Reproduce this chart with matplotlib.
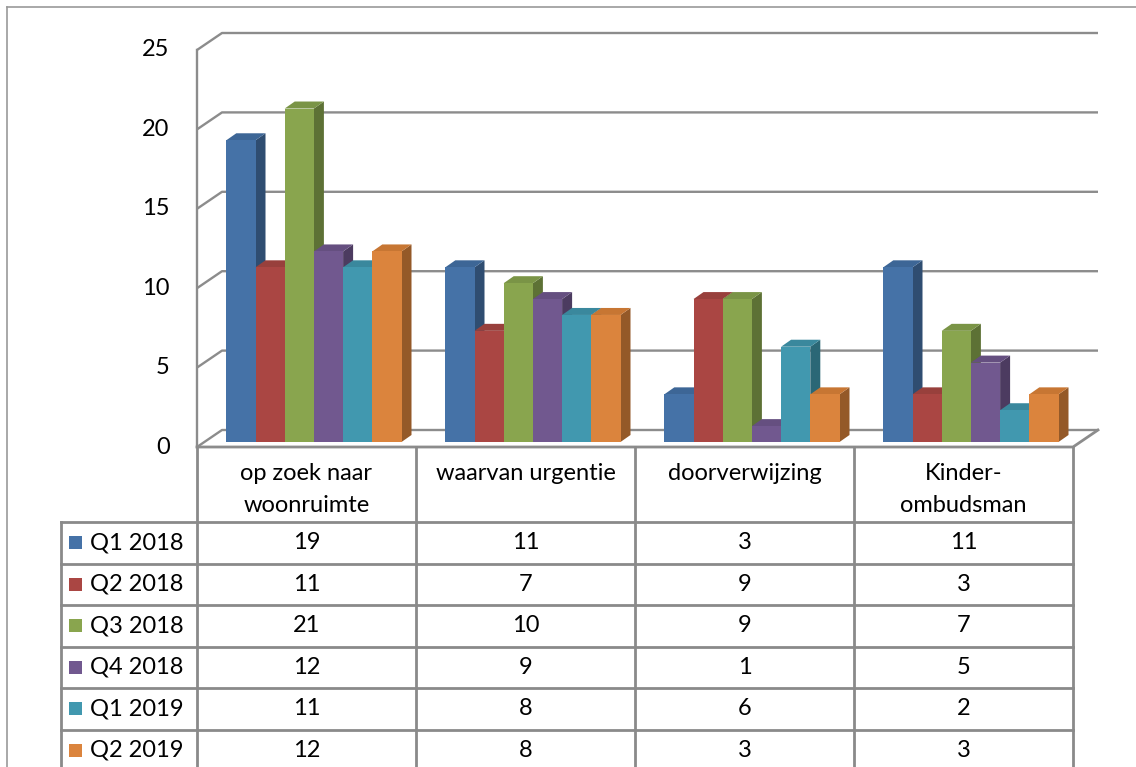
import matplotlib.pyplot as plt
from matplotlib.patches import Polygon, Rectangle

plt.rcParams['font.family'] = ['Lato', 'DejaVu Sans']

# data
categories = ["op zoek naar\nwoonruimte", "waarvan urgentie", "doorverwijzing", "Kinder-\nombudsman"]
series = ["Q1 2018", "Q2 2018", "Q3 2018", "Q4 2018", "Q1 2019", "Q2 2019"]
q1_2018 = [19, 11, 3, 11]
q2_2018 = [11, 7, 9, 3]
q3_2018 = [21, 10, 9, 7]
q4_2018 = [12, 9, 1, 5]
q1_2019 = [11, 8, 6, 2]
q2_2019 = [12, 8, 3, 3]
values = [q1_2018, q2_2018, q3_2018, q4_2018, q1_2019, q2_2019]
yticks = [0, 5, 10, 15, 20, 25]

front = ["#4572A7", "#AA4643", "#89A54E", "#71588F", "#4198AF", "#DB843D"]
top = ["#3D6696", "#98403C", "#7A9446", "#654F80", "#3A889D", "#C77633"]
side = ["#2F4D71", "#76302E", "#5D7135", "#4C3B60", "#2B6776", "#945928"]
grid = "#8c8c8c"
FS = 17

W, H = 1136, 767
X0, CW = 197, 219          # left edge of plot floor and width of one category (px)
Y0, UNIT = 447, 15.88      # baseline and px per unit

fig = plt.figure(figsize=(W / 100, H / 100), dpi=100)
ax = fig.add_axes([0, 0, 1, 1])
ax.set_xlim(-X0 / CW, (W - X0) / CW)
ax.set_ylim(-(H - Y0) / UNIT, Y0 / UNIT)
ax.axis("off")

# depth of back wall, bar placement inside the floor
DX, DY = 25 / CW, 17 / UNIT
BDX, BDY = 7.4 / CW, 5 / UNIT
SDX, SDY = 10 / CW, 7 / UNIT
n = len(categories)
bw = 0.8 / len(series)

# walls and gridlines
for v in yticks:
    ax.plot([0, DX, n + DX], [v, v + DY, v + DY], color=grid, lw=1.7, zorder=1,
            solid_capstyle="butt")
    ax.text(-0.125, v, str(v), ha="right", va="center", fontsize=FS)
ax.plot([0, 0], [0, yticks[-1]], color=grid, lw=1.7, zorder=1)
ax.plot([0, n, n + DX], [0, 0, DY], color=grid, lw=2, zorder=1)

# 3d columns
for c in range(n):
    for i, s in enumerate(values):
        x = c + 0.1 + i * bw + BDX
        y0 = BDY
        y1 = BDY + s[c]
        ax.add_patch(Polygon([(x + bw, y0), (x + bw + SDX, y0 + SDY), (x + bw + SDX, y1 + SDY), (x + bw, y1)],
                             closed=True, fc=side[i], ec="none", zorder=3))
        ax.add_patch(Polygon([(x, y1), (x + SDX, y1 + SDY), (x + bw + SDX, y1 + SDY), (x + bw, y1)],
                             closed=True, fc=top[i], ec="none", zorder=3))
        ax.add_patch(Rectangle((x, y0), bw, s[c], fc=front[i], ec="none", zorder=3))

# data table drawn in pixel coordinates
tb = fig.add_axes([0, 0, 1, 1], facecolor="none")
tb.set_xlim(0, W)
tb.set_ylim(H, 0)
tb.axis("off")

tcol = "#8a8a8a"
row0, rh = 522, 41.5
leg_x0 = 61
colx = [X0 + CW * k for k in range(n + 1)]

# outer frame
tb.plot([7, 7], [7, H], color="#9a9a9a", lw=1.2)
tb.plot([7, W], [7, 7], color="#9a9a9a", lw=1.2)

for x in colx:
    tb.plot([x, x], [Y0, H], color=tcol, lw=2)
tb.plot([leg_x0, leg_x0], [row0, H], color=tcol, lw=2)
for r in range(len(series)):
    y = row0 + rh * r
    tb.plot([leg_x0, colx[-1]], [y, y], color=tcol, lw=2)

for c, name in enumerate(categories):
    cx = (colx[c] + colx[c + 1]) / 2
    for k, line in enumerate(name.split("\n")):
        tb.text(cx, 474 + 32 * k, line, ha="center", va="center", fontsize=FS)

for r, name in enumerate(series):
    cy = row0 + rh * (r + 0.5)
    tb.add_patch(Rectangle((69, cy - 6.5), 13, 13, fc=front[r], ec="none"))
    tb.text(90, cy, name, ha="left", va="center", fontsize=FS)
    for c in range(n):
        cx = (colx[c] + colx[c + 1]) / 2
        tb.text(cx, cy, str(values[r][c]), ha="center", va="center", fontsize=FS)

fig.savefig("out.png", dpi=100)
